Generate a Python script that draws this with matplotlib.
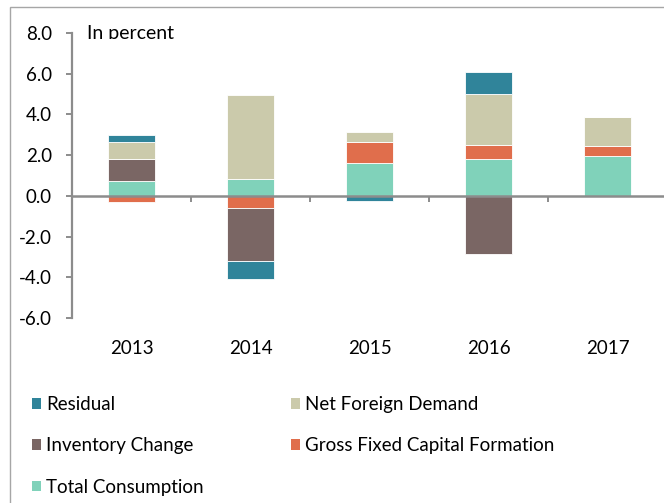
import matplotlib
matplotlib.use("Agg")
import matplotlib.pyplot as plt
import numpy as np
from matplotlib.patches import Rectangle, Patch

years = ["2013", "2014", "2015", "2016", "2017"]
total_consumption = [0.75, 0.83, 1.60, 1.83, 1.96]
gross_fixed_capital = [-0.28, -0.59, 1.04, 0.68, 0.50]
inventory_change = [1.06, -2.61, 0.0, -2.87, 0.0]
net_foreign_demand = [0.83, 4.11, 0.52, 2.49, 1.42]
residual = [0.33, -0.87, -0.24, 1.07, 0.0]
yticks = [-6, -4, -2, 0, 2, 4, 6, 8]
ytick_labels = ["-6.0", "-4.0", "-2.0", "0.0", "2.0", "4.0", "6.0", "8.0"]

series = [
    ("Total Consumption", total_consumption, "#80D2BA"),
    ("Gross Fixed Capital Formation", gross_fixed_capital, "#E06E4C"),
    ("Inventory Change", inventory_change, "#7A6664"),
    ("Net Foreign Demand", net_foreign_demand, "#CBCAAB"),
    ("Residual", residual, "#30849A"),
]

plt.rcParams['font.family'] = ['Liberation Sans Narrow', 'Lato', 'DejaVu Sans']
FS = 13.5
W, H = 664, 503
fig = plt.figure(figsize=(W / 100, H / 100), dpi=100)

def px(x0, y0, x1, y1):
    return [x0 / W, 1 - y1 / H, (x1 - x0) / W, (y1 - y0) / H]

ax = fig.add_axes(px(72, 33, 667, 318))
x = np.arange(len(years))
pos = np.zeros(len(years))
neg = np.zeros(len(years))
for name, vals, col in series:
    v = np.array(vals, dtype=float)
    bottom = np.where(v >= 0, pos, neg)
    ax.bar(x, v, width=0.403, bottom=bottom, color=col, edgecolor="white",
           linewidth=0.6, label=name, zorder=2)
    pos += np.where(v >= 0, v, 0)
    neg += np.where(v < 0, v, 0)

ax.set_xlim(-0.5, len(years) - 0.5)
ax.set_ylim(-6, 8)
gray = "#8C8C8C"
for s in ["top", "right"]:
    ax.spines[s].set_visible(False)
ax.spines["left"].set_color(gray)
ax.spines["left"].set_linewidth(1.6)
ax.spines["bottom"].set_color(gray)
ax.spines["bottom"].set_linewidth(1.8)
ax.spines["bottom"].set_position(("data", 0))
ax.spines["bottom"].set_zorder(3)

ax.set_yticks(yticks)
ax.set_yticklabels(ytick_labels)
ax.tick_params(axis="y", direction="out", length=4.5, width=1.4, color=gray,
               pad=10, labelsize=FS, labelcolor="black")
ax.set_xticks(x)
ax.set_xticklabels(years)
ax.set_xticks(np.arange(len(years) + 1) - 0.5, minor=True)
ax.tick_params(axis="x", which="major", length=0, pad=104, labelsize=FS, labelcolor="black")
ax.tick_params(axis="x", which="minor", direction="out", length=4.5, width=1.4, color=gray)

# "In percent" label (its lower part is cut off, as in the reference)
fig.text(87 / W, 1 - 39.5 / H, "In percent", fontsize=FS + 0.5, ha="left", va="baseline", zorder=3)
fig.patches.append(Rectangle((80 / W, 1 - 48 / H), 130 / W, 9.5 / H, transform=fig.transFigure,
                             facecolor="white", edgecolor="none", zorder=4))

# Outer frame (left and top edges visible)
fig.patches.append(Rectangle((10 / W, -0.1), 1.2, 1.1 - 7 / H, transform=fig.transFigure,
                             fill=False, edgecolor="#A6A6A6", linewidth=1.0))

handles = {name: Patch(facecolor=col, edgecolor="none") for name, _, col in series}
col1 = ["Residual", "Inventory Change", "Total Consumption"]
col2 = ["Net Foreign Demand", "Gross Fixed Capital Formation"]
common = dict(frameon=False, fontsize=FS, handlelength=0.5, handleheight=0.5,
              handletextpad=0.25, labelspacing=1.3, borderpad=0, borderaxespad=0,
              loc="upper left")
leg1 = fig.legend([handles[n] for n in col1], col1,
                  bbox_to_anchor=(32 / W, 1 - 396 / H), **common)
leg2 = fig.legend([handles[n] for n in col2], col2,
                  bbox_to_anchor=(291 / W, 1 - 396 / H), **common)

fig.savefig("out.png", dpi=100)
